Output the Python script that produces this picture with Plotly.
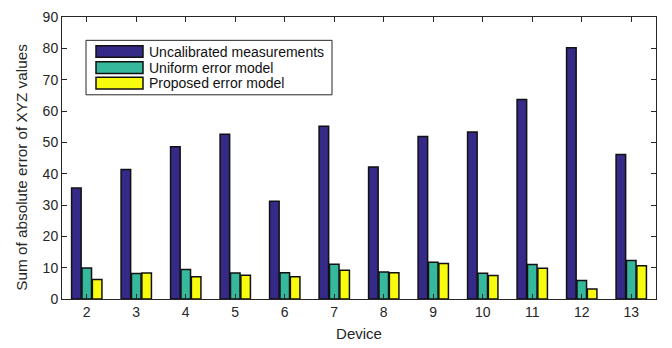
import plotly.graph_objects as go

devices = [2, 3, 4, 5, 6, 7, 8, 9, 10, 11, 12, 13]
uncalibrated = [35.4, 41.3, 48.6, 52.6, 31.2, 55.1, 42.1, 51.9, 53.3, 63.7, 80.2, 46.1]
uniform_model = [9.9, 8.1, 9.4, 8.3, 8.4, 11.1, 8.6, 11.7, 8.2, 11.0, 5.9, 12.3]
proposed_model = [6.2, 8.3, 7.1, 7.6, 7.1, 9.2, 8.4, 11.3, 7.5, 9.8, 3.2, 10.6]

series_names = ["Uncalibrated measurements", "Uniform error model", "Proposed error model"]
series_colors = ["#352a87", "#36b89d", "#f9fb0e"]
series_values = [uncalibrated, uniform_model, proposed_model]

W, H = 672, 348
ML, MR, MT, MB = 62, 16, 9, 49
PW, PH = W - ML - MR, H - MT - MB

FONT = "Liberation Sans, Arial, Helvetica, sans-serif"
INK = "#262626"

fig = go.Figure()
for name, color, vals in zip(series_names, series_colors, series_values):
    fig.add_trace(go.Bar(
        x=devices, y=vals, name=name,
        marker=dict(color=color, line=dict(color="#111111", width=1.5)),
        showlegend=False,
    ))


def px_x(px):
    return (px - ML) / PW


def px_y(py):
    return (H - MB - py) / PH


# Legend box with wide colour swatches
shapes = [dict(type="rect", xref="paper", yref="paper",
               x0=px_x(86), x1=px_x(332), y0=px_y(89), y1=px_y(33),
               line=dict(color=INK, width=1), fillcolor="white", layer="above")]
annotations = []
row_centers = [44.5, 61, 77]
for name, color, cy in zip(series_names, series_colors, row_centers):
    shapes.append(dict(type="rect", xref="paper", yref="paper",
                       x0=px_x(96), x1=px_x(143), y0=px_y(cy + 6), y1=px_y(cy - 6),
                       line=dict(color="#111111", width=1.5), fillcolor=color, layer="above"))
    annotations.append(dict(xref="paper", yref="paper", x=px_x(147), y=px_y(cy),
                            text=name, showarrow=False, xanchor="left", yanchor="middle",
                            font=dict(family=FONT, size=14, color="#111111")))

# Y axis title placed as a rotated annotation
annotations.append(dict(xref="paper", yref="paper", x=px_x(22), y=px_y(164),
                        text="Sum of absolute error of XYZ values", textangle=-90,
                        showarrow=False, xanchor="center", yanchor="middle",
                        font=dict(family=FONT, size=15.3, color=INK)))

axis_common = dict(
    showline=True, linecolor=INK, linewidth=1, mirror="ticks",
    ticks="inside", ticklen=5, tickcolor=INK, tickwidth=1,
    showgrid=False, zeroline=False,
    tickfont=dict(family=FONT, size=14, color=INK),
)

fig.update_layout(
    width=W, height=H,
    margin=dict(l=ML, r=MR, t=MT, b=MB),
    paper_bgcolor="white", plot_bgcolor="white",
    barmode="group", bargap=0.37, bargroupgap=0.08,
    xaxis=dict(range=[1.5, 13.5], tickmode="array", tickvals=devices,
               title=dict(text="Device", font=dict(family=FONT, size=15, color=INK), standoff=9),
               **axis_common),
    yaxis=dict(range=[0, 90], tickmode="linear", tick0=0, dtick=10, **axis_common),
    shapes=shapes,
    annotations=annotations,
)

fig.write_html("out.html")
